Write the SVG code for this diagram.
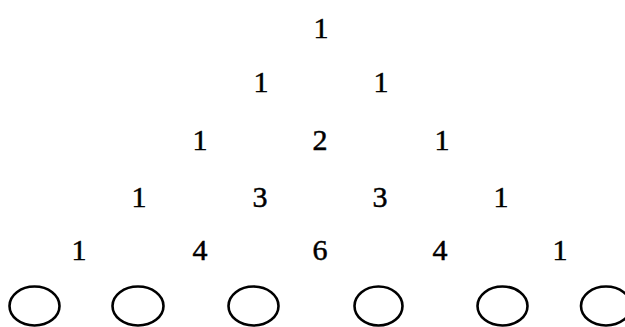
<svg xmlns="http://www.w3.org/2000/svg" width="625" height="327" viewBox="0 0 625 327">
<style>
text{font-family:"Liberation Serif","Times New Roman",serif;font-size:30px;fill:#000;stroke:#000;stroke-width:0.5;text-anchor:middle}
ellipse{fill:none;stroke:#000;stroke-width:2.6}
</style>
<rect width="625" height="327" fill="#fff"/>
<g id="row1"><text x="321" y="38">1</text></g>
<g id="row2"><text x="261" y="92">1</text><text x="381" y="92">1</text></g>
<g id="row3"><text x="200" y="150">1</text><text x="320" y="150">2</text><text x="442" y="150">1</text></g>
<g id="row4"><text x="139" y="207">1</text><text x="260" y="207">3</text><text x="380" y="207">3</text><text x="501" y="207">1</text></g>
<g id="row5"><text x="79" y="260">1</text><text x="200" y="260">4</text><text x="320" y="260">6</text><text x="440" y="260">4</text><text x="560" y="260">1</text></g>
<g id="circles">
<ellipse cx="34.5" cy="306" rx="25" ry="19.5"/>
<ellipse cx="138" cy="306" rx="25.5" ry="19.5"/>
<ellipse cx="253.5" cy="306" rx="25" ry="19.5"/>
<ellipse cx="378.5" cy="306" rx="24" ry="19.5"/>
<ellipse cx="502.5" cy="306" rx="25" ry="19.5"/>
<ellipse cx="606" cy="306" rx="25" ry="19.5"/>
</g>
</svg>
